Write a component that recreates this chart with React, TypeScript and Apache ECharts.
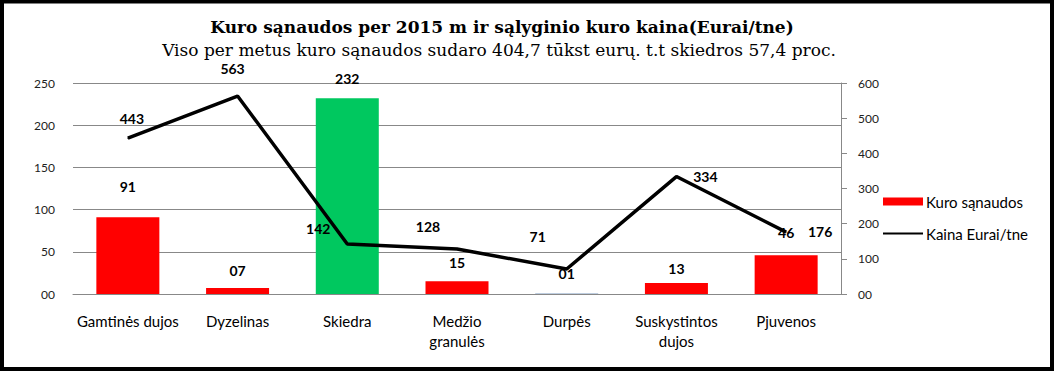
import React, { useEffect, useRef } from "react";
import * as echarts from "echarts";

const categories = [
  "Gamtinės dujos",
  "Dyzelinas",
  "Skiedra",
  "Medžio\ngranulės",
  "Durpės",
  "Suskystintos\ndujos",
  "Pjuvenos",
];
const consumption = [91, 7, 232, 15, 1, 13, 46];
const price = [443, 563, 142, 128, 71, 334, 176];
const barColors = ["#FF0000", "#FF0000", "#00C85F", "#FF0000", "#A9BCD4", "#FF0000", "#FF0000"];
const barLabelOffsets = [[0, -19], [0, -6], [0, -8], [0, -7], [0, -8], [0, -3], [0, -11]];
const lineLabelOffsets = [[4, -7], [-5, -15], [-29, -3], [-29, -10], [-29, -20], [29, 12], [34, 12]];
const leftTicks = { min: 0, max: 250, interval: 50 };
const rightTicks = { min: 0, max: 600, interval: 100 };

const pad2 = (v: number) => String(v).padStart(2, "0");

export default function App() {
  const ref = useRef<HTMLDivElement>(null);
  useEffect(() => {
    if (!ref.current) return;
    const chart = echarts.init(ref.current, null, { renderer: "svg" });
    const labelFont = { fontFamily: "Lato", fontWeight: "bold" as const, fontSize: 14, color: "#000" };
    chart.setOption({
      animation: false,
      backgroundColor: "#fff",
      title: [
        {
          text: "Kuro sąnaudos per 2015 m ir sąlyginio kuro kaina(Eurai/tne)",
          left: 497,
          top: 13,
          textAlign: "center",
          textStyle: { fontFamily: "DejaVu Serif", fontWeight: "bold", fontSize: 17, color: "#000" },
        },
        {
          text: "Viso per metus kuro sąnaudos sudaro 404,7 tūkst eurų. t.t skiedros 57,4 proc.",
          left: 494,
          top: 36,
          textAlign: "center",
          textStyle: { fontFamily: "DejaVu Serif", fontWeight: "normal", fontSize: 17, color: "#000" },
        },
      ],
      graphic: [
        {
          type: "rect",
          shape: { x: 2, y: 1.5, width: 1050, height: 367.5 },
          style: { fill: "none", stroke: "#000", lineWidth: 4 },
          z: 100,
        },
      ],
      legend: {
        orient: "vertical",
        left: 882,
        top: 194,
        padding: 0,
        itemWidth: 40,
        itemHeight: 8,
        itemGap: 17,
        textStyle: { fontFamily: "Lato", fontSize: 15, color: "#000", padding: [0, 0, 0, -2] },
        data: [
          { name: "Kuro sąnaudos", icon: "rect", itemStyle: { color: "#FF0000" } },
          { name: "Kaina Eurai/tne", itemStyle: { opacity: 0 }, lineStyle: { width: 2, color: "#000" } },
        ],
      },
      grid: { left: 73, right: 213, top: 83, bottom: 90 },
      xAxis: {
        type: "category",
        data: categories,
        axisLine: { show: true, lineStyle: { color: "#888", width: 1 } },
        axisTick: { show: false },
        axisLabel: {
          interval: 0,
          margin: 17,
          lineHeight: 20,
          fontFamily: "Lato",
          fontSize: 15,
          color: "#000",
        },
      },
      yAxis: [
        {
          type: "value",
          ...leftTicks,
          axisLine: { show: false },
          axisTick: { show: false },
          splitLine: { show: true, lineStyle: { color: "#888", width: 1 } },
          axisLabel: {
            margin: 18,
            fontFamily: "Lato",
            fontSize: 12,
            color: "#222",
            formatter: (v: number) => (v === 0 ? "00" : String(v)),
          },
        },
        {
          type: "value",
          ...rightTicks,
          position: "right",
          axisLine: { show: true, lineStyle: { color: "#888", width: 1 } },
          axisTick: { show: true, length: 6, lineStyle: { color: "#888" } },
          splitLine: { show: false },
          axisLabel: {
            margin: 17,
            fontFamily: "Lato",
            fontSize: 12,
            color: "#222",
            formatter: (v: number) => (v === 0 ? "00" : String(v)),
          },
        },
      ],
      series: [
        {
          name: "Kuro sąnaudos",
          type: "bar",
          yAxisIndex: 0,
          barWidth: 63,
          itemStyle: { color: "#FF0000" },
          label: {
            show: true,
            position: "top",
            ...labelFont,
            formatter: (p: any) => pad2(p.value),
          },
          data: consumption.map((v, i) => ({
            value: v,
            itemStyle: { color: barColors[i] },
            label: { offset: barLabelOffsets[i] },
          })),
          z: 2,
        },
        {
          name: "Kaina Eurai/tne",
          type: "line",
          yAxisIndex: 1,
          symbol: "circle",
          symbolSize: 1,
          showSymbol: true,
          lineStyle: { color: "#000", width: 3.5 },
          itemStyle: { color: "#000" },
          label: {
            show: true,
            position: "top",
            ...labelFont,
            formatter: (p: any) => pad2(p.value),
          },
          data: price.map((v, i) => ({
            value: v,
            label: { offset: lineLabelOffsets[i] },
          })),
          z: 3,
        },
      ],
    });
    return () => chart.dispose();
  }, []);
  return (
    <div
      ref={ref}
      style={{ position: "absolute", left: 0, top: 0, width: 1054, height: 384 }}
    />
  );
}
